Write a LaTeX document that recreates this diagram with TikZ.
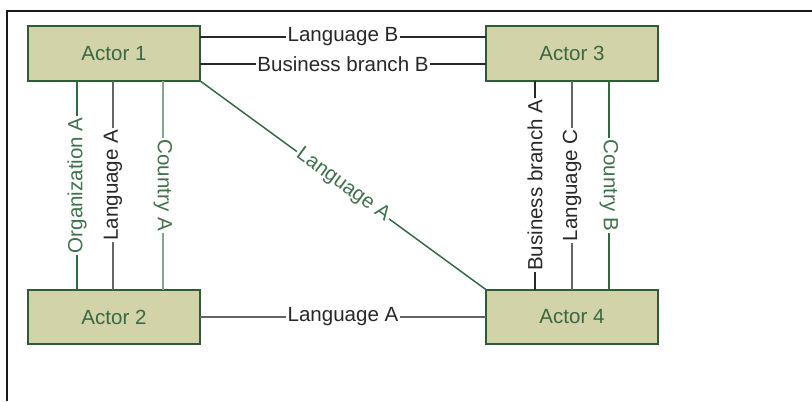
\documentclass[tikz,border=0pt]{standalone}
\usepackage{fontspec}
\setmainfont{Liberation Sans}
\usetikzlibrary{calc}

\definecolor{boxfill}{RGB}{211,211,170}
\definecolor{boxedge}{RGB}{46,92,54}
\definecolor{actortext}{RGB}{58,104,64}
\definecolor{darkline}{RGB}{40,40,40}
\definecolor{grayline}{RGB}{100,100,100}
\definecolor{greenline}{RGB}{52,104,64}
\definecolor{lightgreen}{RGB}{130,168,140}
\definecolor{greentext}{RGB}{64,112,76}

\tikzset{
  actor/.style={draw=boxedge, line width=1.5pt, fill=boxfill,
    minimum width=129pt, minimum height=41pt, inner sep=0pt, outer sep=0pt,
    text=actortext, font=\fontsize{15.4}{17}\selectfont},
  lbl/.style={fill=white, inner sep=1.2pt, font=\fontsize{15.4}{17}\selectfont},
  blk/.style={draw=darkline, line width=1.1pt},
  gry/.style={draw=grayline, line width=1.2pt},
  grn/.style={draw=greenline, line width=1.1pt},
  lgrn/.style={draw=lightgreen, line width=1.3pt},
}

\begin{document}
\begin{tikzpicture}[x=0.75pt, y=-0.75pt]
  \useasboundingbox (0,0) rectangle (812,401);

  % page frame (top and left edges)
  \draw[draw=black!90, line width=1.7pt] (7,401) -- (7,11) -- (812,11);

  % actors
  \node[actor] (a1) at (114,53.5) {Actor 1};
  \node[actor] (a3) at (572,53.5) {Actor 3};
  \node[actor] (a2) at (114,317) {Actor 2};
  \node[actor] (a4) at (572,317) {Actor 4};

  % horizontal relations
  \draw[blk] (a1.east |- 0,37) -- node[lbl, text=darkline] {Language B} (a3.west |- 0,37);
  \draw[blk] (a1.east |- 0,64) -- node[lbl, text=darkline] {Business branch B} (a3.west |- 0,64);
  \draw[gry] (a2.east) -- node[lbl, text=darkline] {Language A} (a4.west);

  % diagonal relation
  \draw[grn] (a1.south east) -- node[lbl, sloped, text=greentext] {Language A} (a4.north west);

  % vertical relations between actor 1 and actor 2
  \draw[grn] (a1.south -| 77,0) -- node[lbl, rotate=90, text=greentext] {Organization A} (a2.north -| 77,0);
  \draw[gry] (a1.south -| 113,0) -- node[lbl, rotate=90, text=darkline] {Language A} (a2.north -| 113,0);
  \draw[lgrn] (a1.south -| 163,0) -- node[lbl, rotate=-90, text=greentext] {Country A} (a2.north -| 163,0);

  % vertical relations between actor 3 and actor 4
  \draw[blk] (a3.south -| 535,0) -- node[lbl, rotate=90, text=darkline] {Business branch A} (a4.north -| 535,0);
  \draw[gry] (a3.south -| 572,0) -- node[lbl, rotate=90, text=darkline] {Language C} (a4.north -| 572,0);
  \draw[grn] (a3.south -| 609,0) -- node[lbl, rotate=-90, text=greentext] {Country B} (a4.north -| 609,0);
\end{tikzpicture}
\end{document}
